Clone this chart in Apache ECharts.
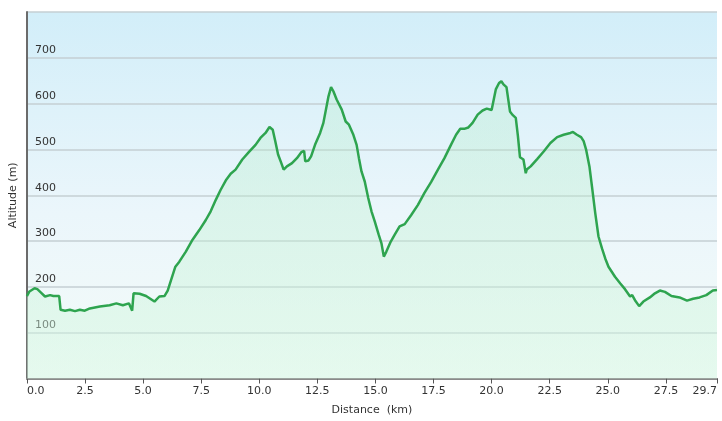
<!DOCTYPE html>
<html><head><meta charset="utf-8">
<script src="https://cdn.jsdelivr.net/npm/echarts@6/dist/echarts.min.js"></script>
<style>html,body{margin:0;padding:0;background:#fff}#c{width:722px;height:421px}</style>
</head><body><div id="c"></div>
<script>
const distanceKm = [0,0.11,0.33,0.45,0.64,0.78,1.0,1.14,1.39,1.45,1.64,1.85,2.07,2.28,2.49,2.71,3.14,3.56,3.85,4.13,4.39,4.53,4.59,4.85,5.13,5.49,5.56,5.70,5.92,6.06,6.20,6.39,6.56,6.84,7.13,7.42,7.70,7.91,8.13,8.34,8.58,8.77,8.98,9.27,9.55,9.84,10.05,10.27,10.44,10.52,10.58,10.69,10.81,10.95,11.05,11.19,11.41,11.62,11.81,11.93,11.98,12.12,12.23,12.40,12.62,12.76,12.83,12.98,13.09,13.19,13.33,13.55,13.72,13.86,14.05,14.19,14.29,14.40,14.54,14.69,14.83,14.97,15.14,15.26,15.36,15.47,15.66,15.83,16.04,16.26,16.54,16.83,17.11,17.40,17.69,17.97,18.25,18.47,18.65,18.82,19.00,19.18,19.40,19.61,19.79,20.00,20.18,20.32,20.42,20.51,20.64,20.79,20.89,21.04,21.13,21.22,21.37,21.47,21.51,21.68,21.96,22.25,22.53,22.82,23.10,23.39,23.50,23.67,23.85,23.96,24.07,24.21,24.32,24.46,24.60,24.75,24.89,25.03,25.11,25.31,25.53,25.74,25.96,26.05,26.17,26.35,26.53,26.81,27.03,27.24,27.46,27.74,28.09,28.41,28.67,28.95,29.24,29.52,29.70];
const altitudeM = [180,190,197,195,186,179,182,180,180,150,148,150,147,150,148,153,157,160,164,160,164,148,186,185,180,168,164,179,180,192,214,244,255,277,303,324,346,365,390,412,434,447,456,478,494,510,525,536,549,552,543,518,489,470,456,463,470,481,494,497,474,476,485,510,536,558,561,616,636,627,609,587,561,554,532,510,481,452,430,394,365,343,314,295,266,277,299,314,332,337,357,379,405,429,456,481,510,532,545,545,548,558,576,585,589,586,631,645,649,642,636,583,576,569,530,483,478,448,456,463,479,496,514,527,532,536,538,532,527,518,499,463,419,361,310,284,262,244,241,222,208,195,179,182,171,158,168,177,186,192,189,180,177,170,174,177,182,192,193];
const xTickInterval = 2.5;
const yTicks = [0,100,200,300,400,500,600,700,800];

const chart = echarts.init(document.getElementById('c'), null, {renderer:'canvas'});
const font = 'DejaVu Sans, Verdana, sans-serif';
chart.setOption({
  animation:false,
  grid:{left:23.5,right:5,top:12,bottom:42.5,show:true,borderWidth:0,
    backgroundColor:new echarts.graphic.LinearGradient(0,0,0,1,[
      {offset:0,color:'#d2eef9'},{offset:0.55,color:'#ebf6fb'},{offset:1,color:'#f3fbf8'}])},
  xAxis:{type:'value',min:0,max:29.7,interval:xTickInterval,
    name:'Distance  (km)',nameLocation:'middle',nameGap:26,
    nameTextStyle:{fontFamily:font,fontSize:11,color:'#333'},
    axisLine:{lineStyle:{color:'#8a8a8a',width:2}},
    axisTick:{show:true,length:5,lineStyle:{color:'#555',width:1}},
    axisLabel:{fontFamily:font,fontSize:11,color:'#333',margin:7,showMaxLabel:true,
      alignMinLabel:'left',alignMaxLabel:'right',
      formatter:v=>v.toFixed(1)},
    splitLine:{show:false}},
  yAxis:{type:'value',min:yTicks[0],max:yTicks[yTicks.length-1],interval:100,
    name:'Altitude (m)',nameLocation:'middle',nameGap:6,nameRotate:90,
    nameTextStyle:{fontFamily:font,fontSize:11,color:'#333'},
    axisLine:{show:true,lineStyle:{color:'#6b6b6b',width:2}},
    axisTick:{show:false},
    axisLabel:{inside:true,fontFamily:font,fontSize:11,color:'#333',margin:8,
      verticalAlign:'bottom',padding:[0,0,2,0],showMinLabel:false,showMaxLabel:false},
    splitLine:{show:true,lineStyle:{color:'#c4cfd3',width:1.5}}},
  series:[{type:'line',data:distanceKm.map((d,i)=>[d,altitudeM[i]]),
    showSymbol:false,symbol:'none',
    lineStyle:{color:'#2ea44f',width:2.5},
    areaStyle:{color:new echarts.graphic.LinearGradient(0,0,0,1,[
      {offset:0,color:'rgba(170,235,190,0.35)'},{offset:1,color:'rgba(215,248,228,0.7)'}])}}]
});
</script></body></html>
